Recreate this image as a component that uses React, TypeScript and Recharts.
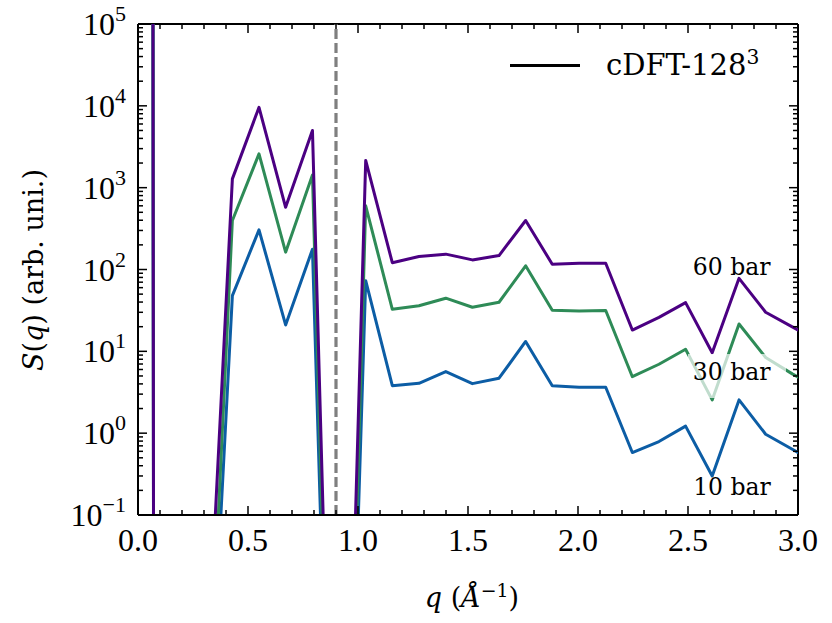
import { Line, LineChart, ReferenceLine, XAxis, YAxis } from "recharts";

// q grid (Å^-1) and S(q) for the three pressures
const qValues = [
  0.065, 0.187, 0.308, 0.429, 0.55, 0.671, 0.793, 0.914, 1.035, 1.156, 1.277, 1.399, 1.52,
  1.641, 1.762, 1.883, 2.005, 2.126, 2.247, 2.368, 2.489, 2.61, 2.732, 2.853, 2.974, 3.095,
];
const s60bar = [
  1e13, 1e-300, 5e-4, 1280, 9600, 575, 5000, 1e-8, 2150, 121, 144, 154, 131, 148, 397, 116,
  119, 119, 18.2, 26, 39.4, 9.6, 78, 30, 19.9, 13.1,
];
const s30bar = [
  1e13, 1e-300, 6e-5, 397, 2590, 163, 1430, 3e-9, 600, 32.6, 36, 44.6, 34.6, 39.8, 111, 31.8,
  31, 31.5, 4.9, 6.95, 10.6, 2.55, 21.6, 8.4, 5.3, 3.5,
];
const s10bar = [
  1e13, 1e-300, 3e-5, 48, 305, 21, 177, 3e-9, 73, 3.8, 4.07, 5.65, 4.03, 4.69, 13.2, 3.8,
  3.64, 3.64, 0.58, 0.79, 1.22, 0.3, 2.55, 0.97, 0.635, 0.42,
];

const xMajorTicks = [0, 0.5, 1, 1.5, 2, 2.5, 3];
const xMinorTicks = [
  0.1, 0.2, 0.3, 0.4, 0.6, 0.7, 0.8, 0.9, 1.1, 1.2, 1.3, 1.4, 1.6, 1.7, 1.8, 1.9, 2.1, 2.2,
  2.3, 2.4, 2.6, 2.7, 2.8, 2.9,
];
const yMajorTicks = [0.1, 1, 10, 100, 1000, 10000, 100000];
const yExponents = ["−1", "0", "1", "2", "3", "4", "5"];
const yMinorTicks = yMajorTicks
  .slice(0, -1)
  .flatMap((d) => [2, 3, 4, 5, 6, 7, 8, 9].map((m) => m * d));

const data = qValues.map((q, i) => ({
  q,
  p60: s60bar[i],
  p30: s30bar[i],
  p10: s10bar[i],
}));

// chart geometry
const W = 832;
const H = 623;
const M = { top: 24, right: 34, left: 0, bottom: 0 };
const Y_AXIS_W = 138;
const X_AXIS_H = 108;
const PLOT_TOP = M.top;
const PLOT_RIGHT = W - M.right;

const TICK_FONT = "'Liberation Serif', serif";
const TEXT_FONT = "'DejaVu Serif', serif";
const MAJOR = 9;
const MINOR = 5;

const xTicks = [...xMajorTicks, ...xMinorTicks].sort((a, b) => a - b);
const yTicks = [...yMajorTicks, ...yMinorTicks].sort((a, b) => a - b);

function XTick({ x, y, payload }: any) {
  const v = Number(payload.value);
  const major = xMajorTicks.includes(v);
  const len = major ? MAJOR : MINOR;
  return (
    <g>
      <line x1={x} x2={x} y1={y} y2={y - len} stroke="#000" strokeWidth={1.5} />
      <line x1={x} x2={x} y1={PLOT_TOP} y2={PLOT_TOP + len} stroke="#000" strokeWidth={1.5} />
      {major && (
        <text x={x} y={y + 25} textAnchor="middle" dominantBaseline="central" fontFamily={TICK_FONT} fontSize={32} fill="#000">
          {v.toFixed(1)}
        </text>
      )}
    </g>
  );
}

function YTick({ x, y, payload }: any) {
  const v = Number(payload.value);
  const idx = yMajorTicks.indexOf(v);
  const major = idx >= 0;
  const len = major ? MAJOR : MINOR;
  return (
    <g>
      <line x1={x} x2={x + len} y1={y} y2={y} stroke="#000" strokeWidth={1.5} />
      <line x1={PLOT_RIGHT} x2={PLOT_RIGHT - len} y1={y} y2={y} stroke="#000" strokeWidth={1.5} />
      {major && (
        <text x={x - 12} y={y} textAnchor="end" dominantBaseline="central" fontFamily={TICK_FONT} fontSize={32} fill="#000">
          <tspan>10</tspan>
          <tspan dy={-11} fontSize={22}>{yExponents[idx]}</tspan>
        </text>
      )}
    </g>
  );
}

const spine = { stroke: "#000", strokeWidth: 2 };
const xDomain: [number, number] = [0, 3];
const yDomain: [number, number] = [0.1, 100000];

const sup = { fontSize: "0.7em", position: "relative" as const, top: "-0.55em" };

export default function App() {
  return (
    <div style={{ position: "absolute", left: 0, top: 0, width: W, height: H, background: "#fff" }}>
      <LineChart width={W} height={H} data={data} margin={M}>
        <XAxis
          xAxisId="x"
          orientation="bottom"
          height={X_AXIS_H}
          type="number"
          dataKey="q"
          domain={xDomain}
          allowDataOverflow
          ticks={xTicks}
          interval={0}
          tick={<XTick />}
          tickSize={0}
          tickMargin={0}
          tickLine={false}
          axisLine={spine}
        />
        <YAxis
          yAxisId="y"
          orientation="left"
          width={Y_AXIS_W}
          scale="log"
          type="number"
          domain={yDomain}
          allowDataOverflow
          ticks={yTicks}
          interval={0}
          tick={<YTick />}
          tickSize={0}
          tickMargin={0}
          tickLine={false}
          axisLine={spine}
        />

        {/* top and right spines */}
        <ReferenceLine xAxisId="x" yAxisId="y" y={100000} stroke="#000" strokeWidth={2} ifOverflow="visible" />
        <ReferenceLine xAxisId="x" yAxisId="y" x={3} stroke="#000" strokeWidth={2} ifOverflow="visible" />

        <ReferenceLine xAxisId="x" yAxisId="y" x={0.9} stroke="#7f7f7f" strokeWidth={3.2} strokeDasharray="10 4" />

        <Line xAxisId="x" yAxisId="y" type="linear" dataKey="p10" stroke="#0C5DA5" strokeWidth={3} strokeLinejoin="round" dot={false} activeDot={false} isAnimationActive={false} />
        <Line xAxisId="x" yAxisId="y" type="linear" dataKey="p30" stroke="#2E8B57" strokeWidth={3} strokeLinejoin="round" dot={false} activeDot={false} isAnimationActive={false} />
        <Line xAxisId="x" yAxisId="y" type="linear" dataKey="p60" stroke="#4B0082" strokeWidth={3} strokeLinejoin="round" dot={false} activeDot={false} isAnimationActive={false} />
      </LineChart>

      {/* legend */}
      <div style={{ position: "absolute", left: 510, top: 63.5, width: 70, height: 3, background: "#000" }} />
      <div style={{ position: "absolute", left: 606, top: 65, transform: "translateY(-50%)", fontFamily: TEXT_FONT, fontSize: 29, lineHeight: 1, whiteSpace: "nowrap", color: "#000" }}>
        cDFT-128<span style={sup}>3</span>
      </div>

      {/* pressure annotations */}
      <div style={{ position: "absolute", left: 731.7, top: 268.3, transform: "translate(-50%,-50%)", fontFamily: TEXT_FONT, fontSize: 23.5, lineHeight: 1, whiteSpace: "nowrap" }}>
        60 bar
      </div>
      <div style={{ position: "absolute", left: 688, top: 354, width: 98, height: 44, background: "rgba(255,255,255,0.7)" }} />
      <div style={{ position: "absolute", left: 731.7, top: 373.3, transform: "translate(-50%,-50%)", fontFamily: TEXT_FONT, fontSize: 23.5, lineHeight: 1, whiteSpace: "nowrap" }}>
        30 bar
      </div>
      <div style={{ position: "absolute", left: 732, top: 488.3, transform: "translate(-50%,-50%)", fontFamily: TEXT_FONT, fontSize: 23.5, lineHeight: 1, whiteSpace: "nowrap" }}>
        10 bar
      </div>

      {/* axis titles */}
      <div style={{ position: "absolute", left: 472, top: 597, transform: "translate(-50%,-50%)", fontFamily: TEXT_FONT, fontSize: 27, lineHeight: 1, whiteSpace: "nowrap" }}>
        <i>q</i> (<i>Å</i>
        <span style={sup}>−1</span>)
      </div>
      <div style={{ position: "absolute", left: 33, top: 270, transform: "translate(-50%,-50%) rotate(-90deg)", fontFamily: TEXT_FONT, fontSize: 27, lineHeight: 1, whiteSpace: "nowrap" }}>
        <i>S</i>(<i>q</i>) (arb. uni.)
      </div>
    </div>
  );
}
